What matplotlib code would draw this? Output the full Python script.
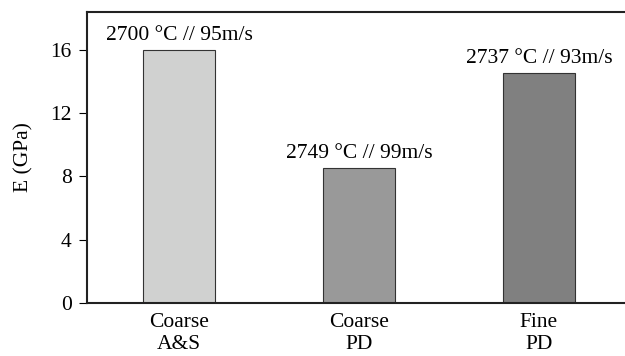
import matplotlib.pyplot as plt

categories = ["Coarse\nA&S", "Coarse\nPD", "Fine\nPD"]
modulus = [16.0, 8.55, 14.55]
notes = ["2700 °C // 95m/s", "2749 °C // 99m/s", "2737 °C // 93m/s"]
colors = ["#d0d1d0", "#999999", "#808080"]

plt.rcParams['font.family'] = ['Liberation Serif', 'DejaVu Serif']
plt.rcParams['font.size'] = 15.5

fig = plt.figure(figsize=(6.25, 3.56), dpi=100)
ax = fig.add_axes([87 / 625, 1 - 303 / 356, 1 - 87 / 625, (303 - 12) / 356])

x = range(len(categories))
ax.bar(x, modulus, width=0.4, color=colors, edgecolor="#333333", linewidth=0.8, zorder=2)
for i, (v, t) in enumerate(zip(modulus, notes)):
    ax.text(i, v + 0.3, t, ha="center", va="bottom")

ax.set_xlim(-0.511, 2.478)
ax.set_ylim(0, 18.4)
ax.set_yticks([0, 4, 8, 12, 16])
ax.set_xticks(list(x))
ax.set_xticklabels(categories, linespacing=1.2)
ax.tick_params(axis="x", length=0, pad=7)
ax.tick_params(axis="y", direction="out", length=6, width=0.8, pad=5)
ax.spines["right"].set_visible(False)
for s in ["left", "top", "bottom"]:
    ax.spines[s].set_linewidth(1.5)
    ax.spines[s].set_color("#222222")
ax.set_ylabel("E (GPa)", labelpad=12)

fig.savefig("out.png", dpi=100)
